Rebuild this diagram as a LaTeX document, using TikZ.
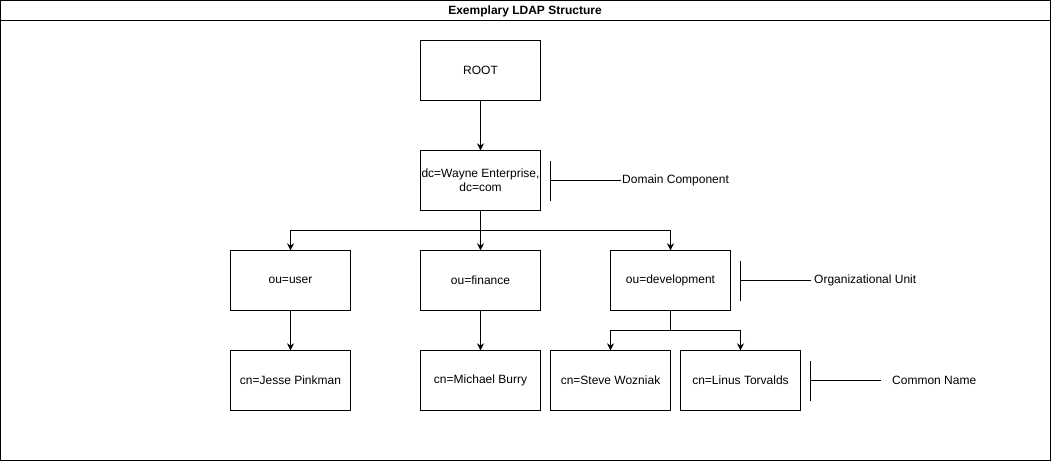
\documentclass[tikz,border=0pt]{standalone}
\usepackage{fontspec}
\setmainfont{Liberation Sans}
\usepackage{tikz}
\usetikzlibrary{arrows.meta,positioning}
\tikzset{
entry/.style = {draw=black, rectangle, minimum width=120pt, minimum height=60pt, inner sep=1pt, align=center, font=\fontsize{12}{14}\selectfont},% ldap entry
note/.style = {anchor=west, inner sep=1pt, font=\fontsize{12}{14}\selectfont},% annotation text
link/.style = {draw=black, line width=0.9pt, -{Stealth[length=7pt,width=7pt]}},
bar/.style = {draw=black, line width=0.9pt}
}
\begin{document}
\begin{tikzpicture}[x=1pt, y=-1pt]
  \useasboundingbox (0,0) rectangle (1051,461);
  % frame and title
  \draw[line width=0.9pt] (0.5,0.5) rectangle (1050.5,460.5);
  \draw[line width=0.9pt] (0.5,20.5) -- (1050.5,20.5);
  \node (title) at (525,11) {\fontsize{12}{14}\selectfont\bfseries Exemplary LDAP Structure};
  % entries
  \node [entry] (root) at (480.5,70.5) {ROOT};
  \node [entry] (dc) at (480.5,180.5) {dc=Wayne Enterprise,\\dc=com};
  \node [entry] (user) at (290.5,280.5) {ou=user};
  \node [entry] (finance) at (480.5,280.5) {ou=finance};
  \node [entry] (dev) at (670.5,280.5) {ou=development};
  \node [entry] (jesse) at (290.5,380.5) {cn=Jesse Pinkman};
  \node [entry] (michael) at (480.5,380.5) {cn=Michael Burry};
  \node [entry] (steve) at (610.5,380.5) {cn=Steve Wozniak};
  \node [entry] (linus) at (740.5,380.5) {cn=Linus Torvalds};
  % connectors
  \draw [link] (root) -- (dc);
  \draw [link] (dc.south) -- ++(0,20) -| (user.north);
  \draw [link] (dc.south) -- (finance.north);
  \draw [link] (dc.south) -- ++(0,20) -| (dev.north);
  \draw [link] (user) -- (jesse);
  \draw [link] (finance) -- (michael);
  \draw [link] (dev.south) -- ++(0,20) -| (steve.north);
  \draw [link] (dev.south) -- ++(0,20) -| (linus.north);
  % annotations
  \coordinate (dcbar) at (550.5,180.5);
  \coordinate (oubar) at (740.5,280.5);
  \coordinate (cnbar) at (810.5,380.5);
  \node [note] (dcnote) at (621,180.5) {Domain Component};
  \node [note] (ounote) at (813,280.5) {Organizational Unit};
  \node [note] (cnnote) at (891,380.5) {Common Name};
  \draw [bar] ([yshift=-20pt]dcbar) -- ([yshift=20pt]dcbar);
  \draw [bar] (dcbar) -- (dcnote.west);
  \draw [bar] ([yshift=-20pt]oubar) -- ([yshift=20pt]oubar);
  \draw [bar] (oubar) -- ++(70,0);
  \draw [bar] ([yshift=-20pt]cnbar) -- ([yshift=20pt]cnbar);
  \draw [bar] (cnbar) -- ++(70,0);
\end{tikzpicture}
\end{document}
